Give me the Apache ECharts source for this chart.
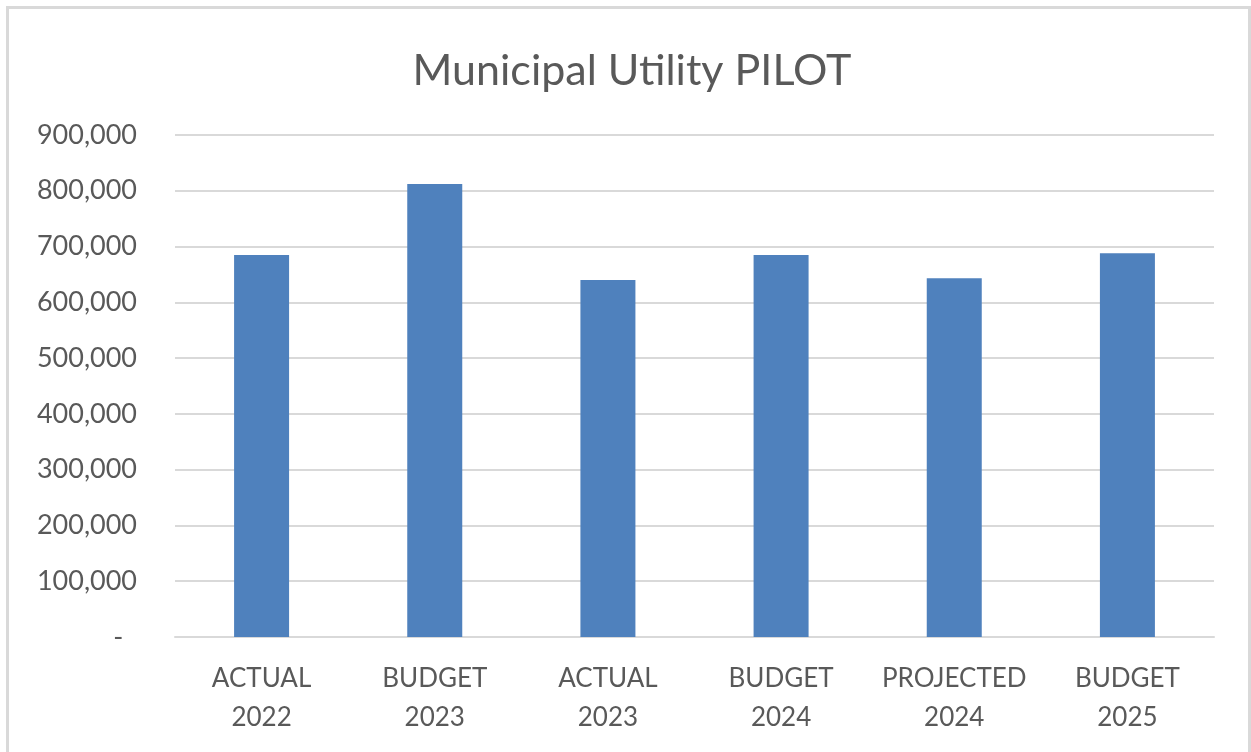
<!DOCTYPE html>
<html>
<head>
<meta charset="utf-8">
<title>Municipal Utility PILOT</title>
<script src="https://cdn.jsdelivr.net/npm/echarts@6/dist/echarts.min.js"></script>
<style>
  html, body { margin: 0; padding: 0; background: #fff; }
  #chart { position: absolute; left: 0; top: 0; width: 1251px; height: 752px; }
  #frame {
    position: absolute; left: 6px; top: 6px; right: 0; bottom: -10px;
    border: 3px solid #d9d9d9; border-bottom: none; pointer-events: none;
  }
</style>
</head>
<body>
<div id="chart"></div>
<div id="frame"></div>
<script>
const categories = ["ACTUAL\n2022", "BUDGET\n2023", "ACTUAL\n2023", "BUDGET\n2024", "PROJECTED\n2024", "BUDGET\n2025"];
const pilotValues = [685000, 812000, 640000, 685000, 643000, 688000];
const yMax = 900000;
const yStep = 100000;

function formatTick(value) {
  // excel accounting style: zero shows as a dash
  if (value === 0) return "-  ";
  return value.toLocaleString("en-US");
}

window.addEventListener("DOMContentLoaded", function () {
  const chart = echarts.init(document.getElementById("chart"));

  const options = {
    animation: false,
    title: {
      text: "Municipal Utility PILOT",
      left: 627,
      textAlign: "center",
      top: 45,
      textStyle: {
        fontFamily: "Lato",
        fontSize: 43,
        fontWeight: "normal",
        color: "#595959",
      },
    },
    grid: {
      left: 175,
      right: 37,
      top: 135,
      bottom: 115,
    },
    xAxis: {
      type: "category",
      data: categories,
      axisLine: { lineStyle: { color: "#d9d9d9", width: 2 } },
      axisTick: { show: false },
      axisLabel: {
        interval: 0,
        margin: 22,
        fontFamily: "Lato",
        fontSize: 26,
        lineHeight: 39,
        color: "#595959",
      },
    },
    yAxis: {
      type: "value",
      min: 0,
      max: yMax,
      interval: yStep,
      axisLine: { show: false },
      axisTick: { show: false },
      splitLine: { lineStyle: { color: "#d9d9d9", width: 2 } },
      axisLabel: {
        margin: 38,
        fontFamily: "Lato",
        fontSize: 27,
        color: "#595959",
        formatter: formatTick,
      },
    },
    series: [
      {
        name: "PILOT",
        type: "bar",
        data: pilotValues,
        barWidth: 55,
        itemStyle: { color: "#4f81bd" },
      },
    ],
  };

  chart.setOption(options);
});
</script>
</body>
</html>
